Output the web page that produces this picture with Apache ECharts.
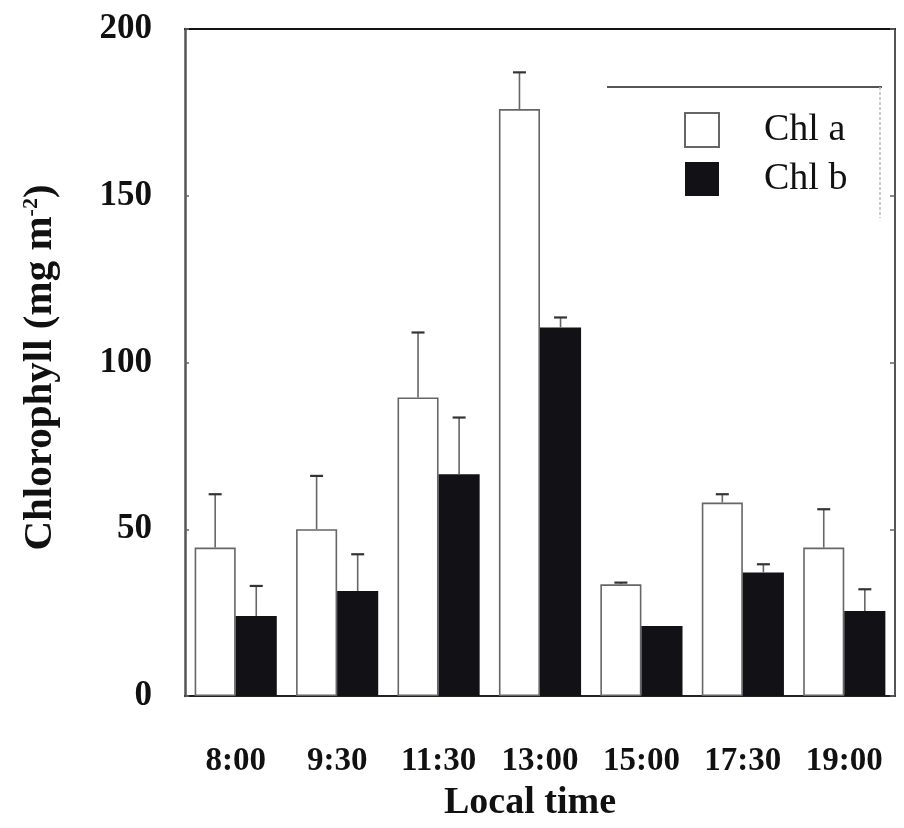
<!DOCTYPE html>
<html>
<head>
<meta charset="utf-8">
<script src="https://cdn.jsdelivr.net/npm/echarts@6/dist/echarts.min.js"></script>
<style>
  html, body { margin: 0; padding: 0; background: #ffffff; }
  #chart { width: 904px; height: 828px; }
</style>
</head>
<body>
<div id="chart"></div>
<script>
// Sampling times (local time)
var categories = ['8:00', '9:30', '11:30', '13:00', '15:00', '17:30', '19:00'];
// Mean chlorophyll content (mg m-2)
var chlA = [44.5, 50, 89.5, 176, 33.5, 58, 44.5];
var chlB = [24, 31.5, 66.5, 110.5, 21, 37, 25.5];
// Standard deviations (upper error bars)
var chlAErr = [16, 16, 19.5, 11, 0.5, 2.5, 11.5];
var chlBErr = [9, 11, 17, 3, 0, 2.5, 6.5];
// Value axis ticks
var yTicks = [0, 50, 100, 150, 200];

var FONT = '"Liberation Serif", "Times New Roman", serif';
var CAT_GAP = 0.19;

function errorSeries(name, means, errs, side) {
  var data = means.map(function (m, i) { return [i, m, m + errs[i]]; });
  return {
    name: name + ' SD',
    type: 'custom',
    z: 5,
    silent: true,
    data: data,
    renderItem: function (params, api) {
      var i = api.value(0);
      var lo = api.value(1), hi = api.value(2);
      if (hi - lo <= 0) return null;
      var band = api.size([1, 0])[0];
      var off = side * band * (1 - CAT_GAP) / 4;
      var p0 = api.coord([i, lo]);
      var p1 = api.coord([i, hi]);
      var x = p0[0] + off;
      var cap = 6.5;
      return {
        type: 'group',
        children: [
          { type: 'line', shape: { x1: x, y1: p0[1], x2: x, y2: p1[1] },
            style: { stroke: '#666', lineWidth: 1.6 } },
          { type: 'line', shape: { x1: x - cap, y1: p1[1], x2: x + cap, y2: p1[1] },
            style: { stroke: '#333', lineWidth: 2.2 } }
        ]
      };
    }
  };
}

var chart = echarts.init(document.getElementById('chart'), null, { renderer: 'canvas' });

chart.setOption({
  backgroundColor: '#ffffff',
  animation: false,
  grid: { left: 185, right: 9, top: 29, bottom: 132 },
  legend: {
    orient: 'vertical',
    left: 679,
    top: 106,
    itemWidth: 34,
    itemHeight: 34,
    itemGap: 11,
    icon: 'rect',
    data: ['Chl a', 'Chl b'],
    textStyle: { fontFamily: FONT, fontSize: 38, color: '#111', padding: [0, 0, 0, 40] }
  },
  xAxis: [{
    type: 'category',
    data: categories,
    position: 'bottom',
    axisLine: { onZero: false, lineStyle: { color: '#222', width: 2 } },
    axisTick: { show: false },
    axisLabel: { interval: 0, hideOverlap: false, margin: 49, fontFamily: FONT, fontSize: 33, fontWeight: 'bold', color: '#111' },
    name: 'Local time',
    nameLocation: 'middle',
    nameGap: 88,
    nameTextStyle: { fontFamily: FONT, fontSize: 38, fontWeight: 'bold', color: '#111', padding: [0, 20, 0, 0] }
  }, {
    type: 'category',
    data: categories,
    position: 'top',
    axisLine: { show: true, onZero: false, lineStyle: { color: '#111', width: 2 } },
    axisTick: { show: false },
    axisLabel: { show: false }
  }],
  yAxis: [{
    type: 'value',
    min: 0,
    max: 200,
    interval: 50,
    position: 'left',
    axisLine: { show: true, lineStyle: { color: '#555', width: 2.5 } },
    axisTick: { show: true, inside: true, length: 4, lineStyle: { color: '#666', width: 1.5 } },
    splitLine: { show: false },
    axisLabel: {
      margin: 33, fontFamily: FONT, fontSize: 35, fontWeight: 'bold', color: '#111',
      formatter: function (v) { return yTicks.indexOf(v) >= 0 ? String(v) : ''; }
    },
    name: '{t|Chlorophyll (mg m}{s|-2}{t|)}',
    nameLocation: 'middle',
    nameGap: 124,
    nameRotate: 90,
    nameTextStyle: {
      padding: [0, 10, 0, 0],
      rich: {
        t: { fontFamily: FONT, fontSize: 41, fontWeight: 'bold', color: '#111' },
        s: { fontFamily: FONT, fontSize: 22, fontWeight: 'bold', color: '#111', padding: [0, 0, 18, 0] }
      }
    }
  }, {
    type: 'value',
    min: 0,
    max: 200,
    interval: 50,
    position: 'right',
    axisLine: { show: true, lineStyle: { color: '#555', width: 2 } },
    axisTick: { show: true, inside: true, length: 5, lineStyle: { color: '#666', width: 1.5 } },
    splitLine: { show: false },
    axisLabel: { show: false }
  }],
  graphic: [
    { type: 'line', shape: { x1: 607, y1: 87, x2: 882, y2: 87 },
      style: { stroke: '#555', lineWidth: 2 }, z: 10 },
    { type: 'line', shape: { x1: 880, y1: 87, x2: 880, y2: 218 },
      style: { stroke: '#bbb', lineWidth: 1.5, lineDash: [3, 2] }, z: 10 }
  ],
  series: [{
    name: 'Chl a',
    type: 'bar',
    data: chlA,
    barGap: '0%',
    barCategoryGap: (CAT_GAP * 100) + '%',
    itemStyle: { color: '#ffffff', borderColor: '#666', borderWidth: 1.6 }
  }, {
    name: 'Chl b',
    type: 'bar',
    data: chlB,
    barGap: '0%',
    barCategoryGap: (CAT_GAP * 100) + '%',
    itemStyle: { color: '#111116', borderColor: '#111116', borderWidth: 0 }
  },
    errorSeries('Chl a', chlA, chlAErr, -1),
    errorSeries('Chl b', chlB, chlBErr, 1)
  ]
});
</script>
</body>
</html>
